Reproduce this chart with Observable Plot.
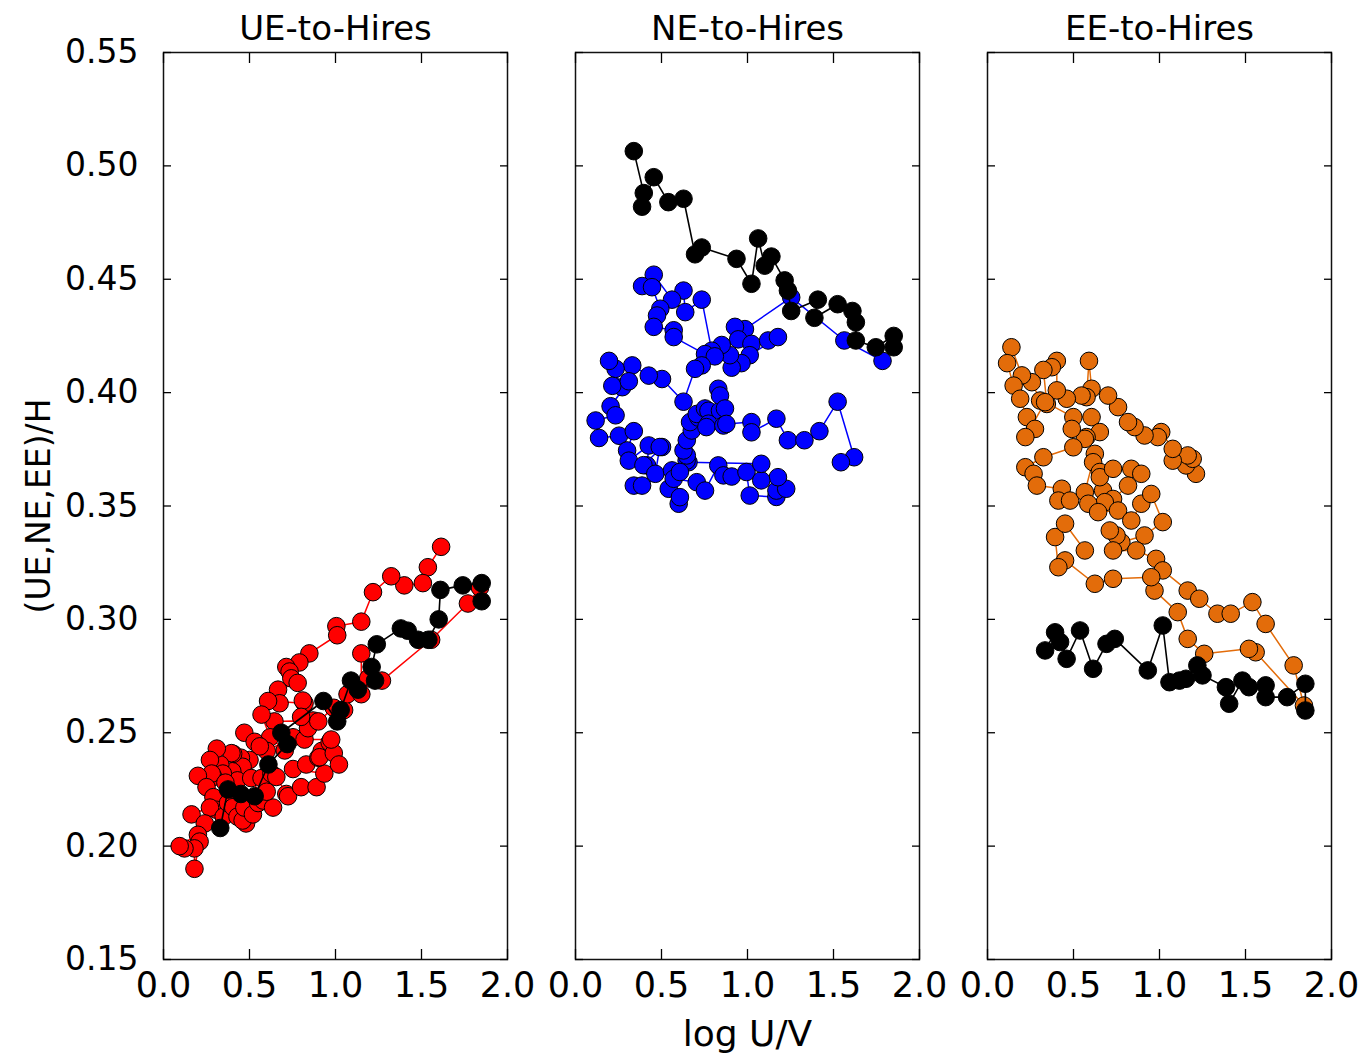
<!DOCTYPE html>
<html>
<head>
<meta charset="utf-8">
<script src="https://cdn.jsdelivr.net/npm/d3@7"></script>
<script src="https://cdn.jsdelivr.net/npm/@observablehq/plot@0.6"></script>
<style>
  html, body { margin: 0; padding: 0; background: #fff; }
  #chart { width: 1368px; height: 1055px; }
</style>
</head>
<body>
<div id="chart"></div>
<script>
// ---- Data ----
const panels = ["UE-to-Hires", "NE-to-Hires", "EE-to-Hires"];
const panelColors = ["#ff0000", "#0000ff", "#e36c0a"];
const xTicks = [0, 0.5, 1.0, 1.5, 2.0];
const yTicks = [0.15, 0.20, 0.25, 0.30, 0.35, 0.40, 0.45, 0.50, 0.55];
const xLabel = "log U/V";
const yLabel = "(UE,NE,EE)/H";

const ueRed = [[1.614,0.332],[1.537,0.323],[1.508,0.316],[1.40,0.315],[1.324,0.319],[1.218,0.312],[1.15,0.299],[1.005,0.297],[1.01,0.293],[0.848,0.285],[0.79,0.281],[0.714,0.279],[0.733,0.277],[0.743,0.274],[0.78,0.272],[0.666,0.269],[0.675,0.263],[0.608,0.264],[0.82,0.263],[0.81,0.2642],[0.87,0.2554],[0.645,0.255],[0.57,0.258],[0.62,0.248],[0.705,0.2422],[0.753,0.248],[0.60,0.242],[0.47,0.250],[0.53,0.246],[0.56,0.244],[0.50,0.238],[0.45,0.239],[0.46,0.235],[0.405,0.2407],[0.395,0.241],[0.40,0.233],[0.43,0.229],[0.33,0.236],[0.345,0.232],[0.29,0.2305],[0.31,0.243],[0.27,0.238],[0.28,0.232],[0.20,0.231],[0.25,0.226],[0.30,0.221],[0.29,0.2216],[0.31,0.216],[0.27,0.217],[0.163,0.214],[0.24,0.210],[0.20,0.205],[0.21,0.202],[0.18,0.190],[0.18,0.199],[0.122,0.199],[0.094,0.200],[0.35,0.213],[0.375,0.219],[0.405,0.2172],[0.36,0.228],[0.43,0.213],[0.48,0.210],[0.46,0.2113],[0.47,0.217],[0.52,0.214],[0.55,0.219],[0.58,0.2201],[0.51,0.230],[0.57,0.230],[0.637,0.217],[0.60,0.224],[0.627,0.232],[0.656,0.2305],[0.714,0.223],[0.724,0.222],[0.80,0.226],[0.89,0.226],[0.935,0.232],[0.753,0.234],[0.83,0.236],[0.90,0.239],[0.92,0.242],[0.907,0.2392],[0.966,0.2458],[0.99,0.241],[1.02,0.236],[0.975,0.247],[0.82,0.247],[0.84,0.252],[0.80,0.257],[0.90,0.255],[0.99,0.261],[1.05,0.260],[1.07,0.267],[1.15,0.267],[1.15,0.285],[1.19,0.274],[1.27,0.273],[1.556,0.291],[1.77,0.307],[1.84,0.314]];
const ueBlack = [[0.33,0.208],[0.375,0.225],[0.45,0.223],[0.53,0.222],[0.61,0.236],[0.72,0.245],[0.685,0.250],[0.93,0.264],[1.01,0.255],[1.03,0.260],[1.09,0.273],[1.13,0.269],[1.23,0.273],[1.21,0.279],[1.24,0.289],[1.38,0.296],[1.42,0.295],[1.48,0.291],[1.54,0.291],[1.60,0.300],[1.61,0.313],[1.74,0.315],[1.85,0.316],[1.85,0.308]];

const neBlue = [[1.785,0.414],[1.563,0.423],[1.254,0.442],[0.985,0.428],[0.927,0.429],[0.946,0.4235],[1.023,0.4215],[1.12,0.423],[1.177,0.4245],[1.013,0.4165],[0.965,0.413],[0.908,0.411],[0.898,0.4165],[0.85,0.421],[0.792,0.4185],[0.734,0.441],[0.638,0.4355],[0.628,0.445],[0.561,0.441],[0.455,0.452],[0.387,0.447],[0.445,0.4465],[0.493,0.437],[0.474,0.434],[0.455,0.429],[0.571,0.4275],[0.571,0.4245],[0.753,0.417],[0.81,0.416],[0.734,0.412],[0.695,0.4105],[0.628,0.396],[0.503,0.406],[0.426,0.4075],[0.33,0.412],[0.233,0.4105],[0.195,0.414],[0.272,0.4024],[0.214,0.403],[0.31,0.405],[0.204,0.394],[0.233,0.390],[0.117,0.3877],[0.137,0.380],[0.253,0.381],[0.339,0.383],[0.30,0.3745],[0.31,0.370],[0.426,0.3767],[0.416,0.3679],[0.395,0.368],[0.503,0.376],[0.49,0.376],[0.464,0.3642],[0.339,0.359],[0.387,0.359],[0.561,0.3657],[0.542,0.3576],[0.60,0.351],[0.607,0.3539],[0.571,0.362],[0.705,0.3605],[0.753,0.3568],[0.83,0.3679],[0.86,0.3635],[0.908,0.363],[0.994,0.365],[1.013,0.3546],[1.168,0.354],[1.168,0.3568],[1.225,0.3576],[1.177,0.3627],[1.08,0.3613],[1.08,0.3686],[0.657,0.3693],[0.646,0.370],[0.607,0.365],[0.647,0.3723],[0.628,0.3745],[0.647,0.379],[0.676,0.3833],[0.666,0.387],[0.715,0.389],[0.705,0.3906],[0.753,0.393],[0.773,0.392],[0.84,0.392],[0.83,0.4017],[0.84,0.3987],[0.869,0.393],[0.773,0.3863],[0.761,0.3848],[0.86,0.3855],[0.877,0.3862],[1.023,0.387],[1.023,0.3825],[1.168,0.3885],[1.235,0.379],[1.331,0.379],[1.418,0.383],[1.524,0.396],[1.62,0.3715],[1.543,0.3693]];
const neBlack = [[0.339,0.5065],[0.397,0.488],[0.387,0.482],[0.455,0.495],[0.54,0.484],[0.628,0.4855],[0.695,0.461],[0.734,0.464],[0.936,0.459],[1.023,0.448],[1.062,0.468],[1.10,0.456],[1.139,0.460],[1.216,0.4495],[1.235,0.445],[1.254,0.436],[1.409,0.441],[1.389,0.433],[1.524,0.439],[1.61,0.436],[1.63,0.431],[1.63,0.423],[1.746,0.420],[1.85,0.425],[1.85,0.420]];

const eeOrange = [[1.212,0.3642],[1.154,0.3679],[1.193,0.3708],[1.164,0.3723],[1.077,0.370],[1.077,0.3752],[1.01,0.3826],[0.99,0.3804],[0.913,0.3811],[0.855,0.3848],[0.817,0.387],[0.759,0.3936],[0.701,0.3987],[0.605,0.4017],[0.59,0.414],[0.576,0.398],[0.547,0.3987],[0.461,0.3973],[0.403,0.401],[0.403,0.414],[0.374,0.4112],[0.325,0.410],[0.345,0.395],[0.306,0.3965],[0.258,0.4046],[0.20,0.4076],[0.139,0.420],[0.114,0.413],[0.152,0.4031],[0.19,0.3973],[0.229,0.3892],[0.276,0.384],[0.22,0.3804],[0.335,0.3958],[0.499,0.3892],[0.605,0.3892],[0.653,0.3826],[0.576,0.3804],[0.566,0.3796],[0.49,0.384],[0.499,0.3759],[0.325,0.3715],[0.22,0.3671],[0.268,0.3642],[0.287,0.359],[0.432,0.3576],[0.412,0.3524],[0.48,0.3524],[0.566,0.3561],[0.624,0.373],[0.614,0.3693],[0.653,0.365],[0.672,0.3568],[0.653,0.3627],[0.73,0.3664],[0.836,0.3664],[0.894,0.3642],[0.817,0.359],[0.73,0.3531],[0.682,0.3517],[0.586,0.351],[0.643,0.3473],[0.759,0.348],[0.836,0.3436],[0.894,0.351],[0.952,0.3553],[1.019,0.3429],[0.913,0.337],[0.778,0.334],[0.75,0.337],[0.711,0.3392],[0.73,0.3304],[0.865,0.3304],[0.98,0.3267],[1.019,0.3216],[1.164,0.3127],[1.231,0.3091],[1.337,0.3025],[1.414,0.3025],[1.54,0.3076],[1.617,0.298],[1.78,0.2797],[1.84,0.262],[1.559,0.2855],[1.52,0.287],[1.26,0.2848],[1.164,0.2914],[1.106,0.3032],[0.971,0.3127],[0.952,0.3186],[0.73,0.3179],[0.624,0.3157],[0.451,0.326],[0.412,0.323],[0.393,0.3363],[0.451,0.3422],[0.566,0.3304]];
const eeBlack = [[0.335,0.2863],[0.393,0.2943],[0.422,0.290],[0.46,0.2826],[0.538,0.2951],[0.614,0.2782],[0.692,0.2892],[0.74,0.2914],[0.932,0.2775],[1.019,0.2973],[1.058,0.2723],[1.116,0.273],[1.154,0.2738],[1.22,0.2797],[1.25,0.2753],[1.386,0.2701],[1.405,0.2628],[1.482,0.273],[1.52,0.2701],[1.617,0.2709],[1.617,0.2657],[1.742,0.2657],[1.848,0.2716],[1.848,0.2598]];

// ---- Build tables ----
const coloredSets = [ueRed, neBlue, eeOrange];
const blackSets = [ueBlack, neBlack, eeBlack];
const colored = coloredSets.flatMap((pts, k) =>
  pts.map(([x, y]) => ({panel: panels[k], color: panelColors[k], x, y})));
const black = blackSets.flatMap((pts, k) =>
  pts.map(([x, y]) => ({panel: panels[k], x, y})));

const FONT = "DejaVu Sans";

const chart = Plot.plot({
  width: 1368,
  height: 1055,
  marginLeft: 162,
  marginRight: 35,
  marginTop: 52,
  marginBottom: 96,
  style: {fontFamily: FONT, fontSize: "33px", color: "#000", background: "#fff"},
  fx: {domain: panels, paddingInner: 0.164, paddingOuter: 0, label: null},
  x: {domain: [0, 2], label: null},
  y: {domain: [0.15, 0.55], label: null},
  color: {type: "identity"},
  marks: [
    Plot.line(colored, {x: "x", y: "y", fx: "panel", z: "panel", stroke: "color", strokeWidth: 1.5}),
    Plot.dot(colored, {x: "x", y: "y", fx: "panel", r: 8.8, fill: "color", stroke: "#000", strokeWidth: 1}),
    Plot.line(black, {x: "x", y: "y", fx: "panel", z: "panel", stroke: "#000", strokeWidth: 1.6}),
    Plot.dot(black, {x: "x", y: "y", fx: "panel", r: 8.8, fill: "#000", stroke: "#000", strokeWidth: 1}),
    Plot.frame({stroke: "#111", strokeWidth: 1.5}),
    // inward ticks on all four sides of each panel
    Plot.axisY({anchor: "left", ticks: yTicks, tickSize: -8, fill: "none", facetAnchor: null, label: null, strokeWidth: 1.3}),
    Plot.axisY({anchor: "right", ticks: yTicks, tickSize: -8, fill: "none", facetAnchor: null, label: null, strokeWidth: 1.3}),
    Plot.axisX({anchor: "top", ticks: xTicks, tickSize: -10, fill: "none", facetAnchor: null, label: null, strokeWidth: 1.3}),
    Plot.axisX({anchor: "bottom", ticks: xTicks, tickSize: -10, fill: "none", facetAnchor: null, label: null, strokeWidth: 1.3}),
    // tick labels
    Plot.axisY({anchor: "left", ticks: yTicks, tickSize: 0, tickPadding: 25, tickFormat: d3.format(".2f"), fontSize: 33,
      label: yLabel, labelAnchor: "center", labelArrow: "none", labelOffset: 137}),
    Plot.axisX({anchor: "bottom", ticks: xTicks, tickSize: 0, tickPadding: 13, tickFormat: d3.format(".1f"), fontSize: 35,
      facetAnchor: null, label: null}),
    Plot.axisFx({anchor: "top", tickSize: 0, tickPadding: 13, fontSize: 34, label: null}),
    Plot.text([{panel: panels[1]}], {fx: "panel", frameAnchor: "bottom", dy: 86, text: () => xLabel, fontSize: 36})
  ]
});
document.getElementById("chart").appendChild(chart);
</script>
</body>
</html>
